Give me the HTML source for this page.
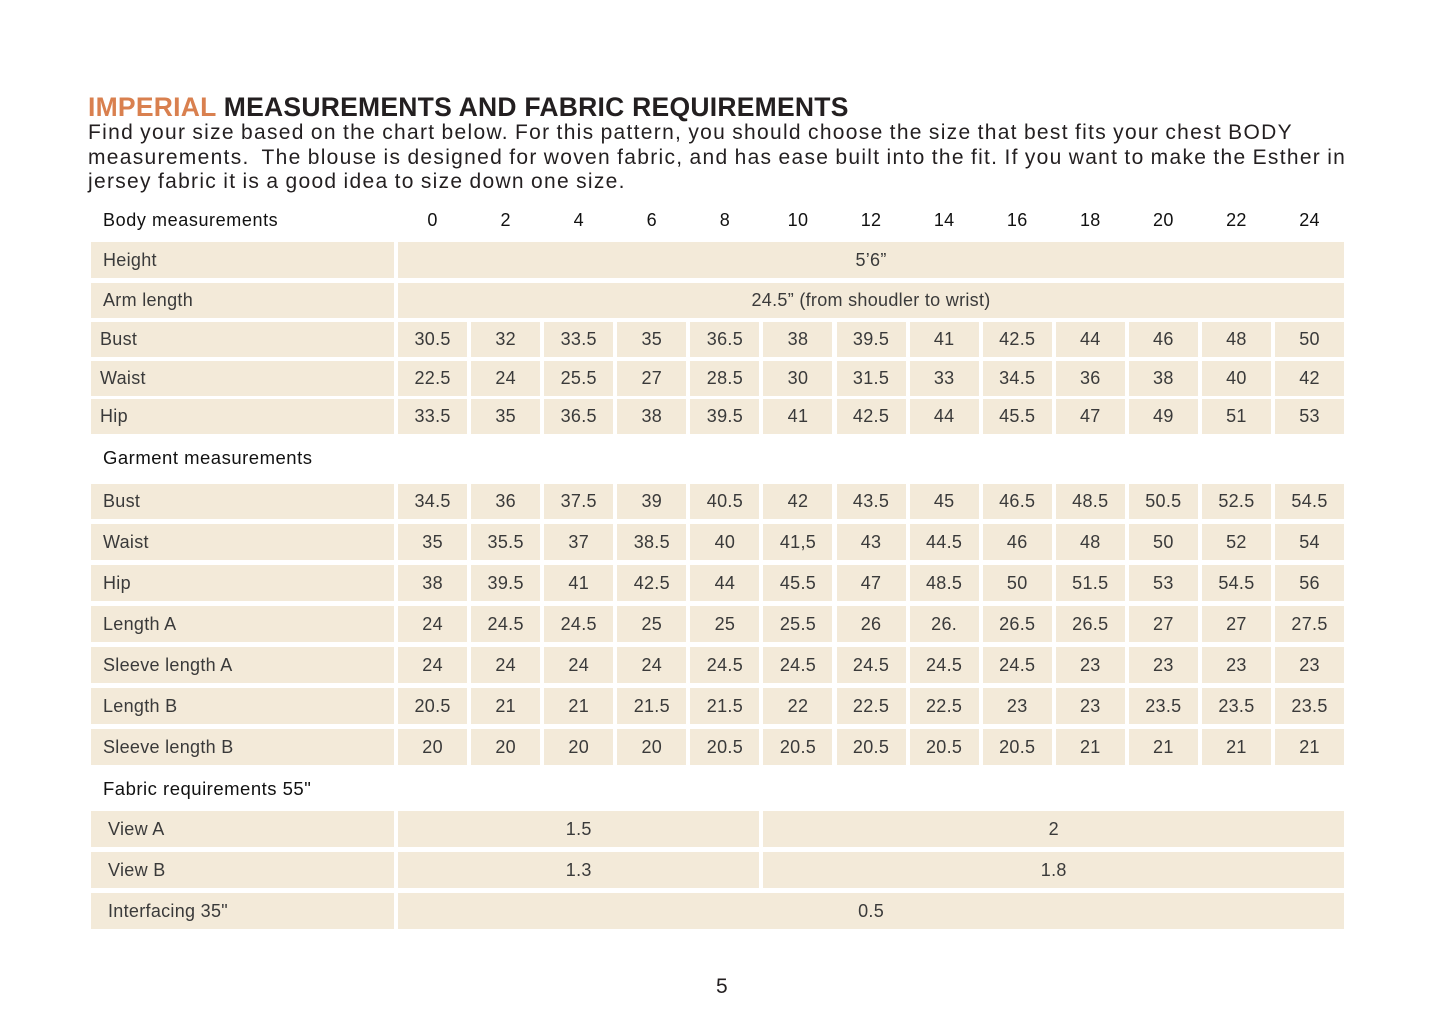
<!DOCTYPE html>
<html><head><meta charset="utf-8"><style>
body{margin:0;background:#fff;width:1445px;height:1030px;position:relative;font-family:"Liberation Sans",sans-serif;color:#231f20;overflow:hidden}
.t{position:absolute;left:88px;top:92px;font-size:26.5px;font-weight:bold;letter-spacing:0.25px;white-space:nowrap}
.t span{color:#d9804f}
.p{position:absolute;left:88px;top:121px;font-size:21px;line-height:24.5px;width:1320px;white-space:nowrap;letter-spacing:1.3px;word-spacing:-1px}
.r{position:absolute;left:91px;width:1253px;display:grid;grid-template-columns:303px repeat(13,69px);column-gap:4.08px;font-size:18px;letter-spacing:0.3px}
.r div{background:#f3ead9;display:flex;align-items:center;justify-content:center;color:#3a3a3a}
.r div.l{justify-content:flex-start;padding-left:12px}
.r.h div{background:none;color:#111}
.sp{grid-column:2 / span 13}
.a{grid-column:2 / span 5}
.b{grid-column:7 / span 8}
.hd{position:absolute;left:103px;font-size:18.5px;color:#111;letter-spacing:0.5px}
.pg{position:absolute;left:716px;top:975px;font-size:21px}
</style></head><body>
<div class="t"><span>IMPERIAL</span> MEASUREMENTS AND FABRIC REQUIREMENTS</div>
<div class="p">Find your size based on the chart below. For this pattern, you should choose the size that best fits your chest BODY<br>measurements.&nbsp; The blouse is designed for woven fabric, and has ease built into the fit. If you want to make the Esther in<br>jersey fabric it is a good idea to size down one size.</div>

<div class="r h" style="top:203px;height:34px"><div class="l" style="letter-spacing:0.6px">Body measurements</div><div>0</div><div>2</div><div>4</div><div>6</div><div>8</div><div>10</div><div>12</div><div>14</div><div>16</div><div>18</div><div>20</div><div>22</div><div>24</div></div>
<div class="r" style="top:242px;height:36px"><div class="l">Height</div><div class="sp">5’6”</div></div>
<div class="r" style="top:283px;height:35px"><div class="l">Arm length</div><div class="sp">24.5” (from shoudler to wrist)</div></div>
<div class="r" style="top:322px;height:35px"><div class="l" style="padding-left:9px">Bust</div><div>30.5</div><div>32</div><div>33.5</div><div>35</div><div>36.5</div><div>38</div><div>39.5</div><div>41</div><div>42.5</div><div>44</div><div>46</div><div>48</div><div>50</div></div>
<div class="r" style="top:361px;height:35px"><div class="l" style="padding-left:9px">Waist</div><div>22.5</div><div>24</div><div>25.5</div><div>27</div><div>28.5</div><div>30</div><div>31.5</div><div>33</div><div>34.5</div><div>36</div><div>38</div><div>40</div><div>42</div></div>
<div class="r" style="top:399px;height:35px"><div class="l" style="padding-left:9px">Hip</div><div>33.5</div><div>35</div><div>36.5</div><div>38</div><div>39.5</div><div>41</div><div>42.5</div><div>44</div><div>45.5</div><div>47</div><div>49</div><div>51</div><div>53</div></div>

<div class="hd" style="top:447px">Garment measurements</div>
<div class="r" style="top:484px;height:35px"><div class="l">Bust</div><div>34.5</div><div>36</div><div>37.5</div><div>39</div><div>40.5</div><div>42</div><div>43.5</div><div>45</div><div>46.5</div><div>48.5</div><div>50.5</div><div>52.5</div><div>54.5</div></div>
<div class="r" style="top:524px;height:36px"><div class="l">Waist</div><div>35</div><div>35.5</div><div>37</div><div>38.5</div><div>40</div><div>41,5</div><div>43</div><div>44.5</div><div>46</div><div>48</div><div>50</div><div>52</div><div>54</div></div>
<div class="r" style="top:565px;height:36px"><div class="l">Hip</div><div>38</div><div>39.5</div><div>41</div><div>42.5</div><div>44</div><div>45.5</div><div>47</div><div>48.5</div><div>50</div><div>51.5</div><div>53</div><div>54.5</div><div>56</div></div>
<div class="r" style="top:606px;height:36px"><div class="l">Length A</div><div>24</div><div>24.5</div><div>24.5</div><div>25</div><div>25</div><div>25.5</div><div>26</div><div>26.</div><div>26.5</div><div>26.5</div><div>27</div><div>27</div><div>27.5</div></div>
<div class="r" style="top:647px;height:36px"><div class="l">Sleeve length A</div><div>24</div><div>24</div><div>24</div><div>24</div><div>24.5</div><div>24.5</div><div>24.5</div><div>24.5</div><div>24.5</div><div>23</div><div>23</div><div>23</div><div>23</div></div>
<div class="r" style="top:688px;height:36px"><div class="l">Length B</div><div>20.5</div><div>21</div><div>21</div><div>21.5</div><div>21.5</div><div>22</div><div>22.5</div><div>22.5</div><div>23</div><div>23</div><div>23.5</div><div>23.5</div><div>23.5</div></div>
<div class="r" style="top:729px;height:36px"><div class="l">Sleeve length B</div><div>20</div><div>20</div><div>20</div><div>20</div><div>20.5</div><div>20.5</div><div>20.5</div><div>20.5</div><div>20.5</div><div>21</div><div>21</div><div>21</div><div>21</div></div>

<div class="hd" style="top:778px">Fabric requirements 55"</div>
<div class="r" style="top:811px;height:36px"><div class="l" style="padding-left:17px">View A</div><div class="a">1.5</div><div class="b">2</div></div>
<div class="r" style="top:852px;height:36px"><div class="l" style="padding-left:17px">View B</div><div class="a">1.3</div><div class="b">1.8</div></div>
<div class="r" style="top:893px;height:36px"><div class="l" style="padding-left:17px">Interfacing 35"</div><div class="sp">0.5</div></div>

<div class="pg">5</div>
</body></html>
